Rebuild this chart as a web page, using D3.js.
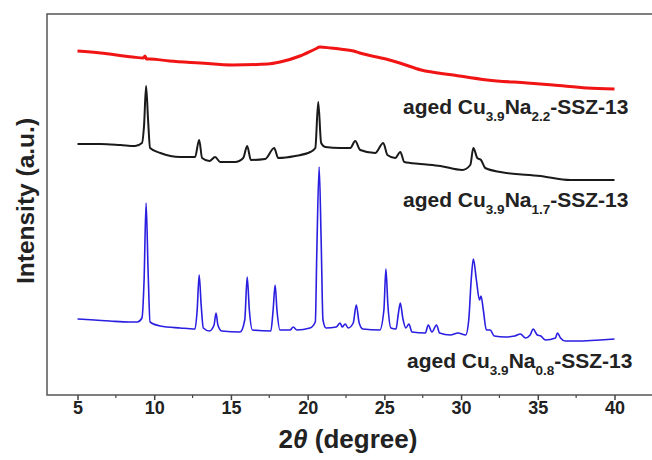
<!DOCTYPE html>
<html>
<head>
    <title>XRD aged Cu-SSZ-13</title>
    <script src="https://d3js.org/d3.v7.min.js"></script>
    <style>
        body {
            margin: 0;
            background-color: #fff;
            font-family: Arial, "Liberation Sans", sans-serif;
        }
        .tick-label {
            font-size: 18px;
            font-weight: bold;
            fill: #222;
        }
        .axis-title {
            font-weight: bold;
            fill: #222;
        }
        .series-label {
            font-size: 21px;
            font-weight: bold;
            fill: #222;
        }
    </style>
</head>
<body>
    <svg id="chart"></svg>
    <script>
        // 2theta tick labels
        const xTicks = [5, 10, 15, 20, 25, 30, 35, 40];
        const xMinorTicks = [7.5, 12.5, 17.5, 22.5, 27.5, 32.5, 37.5];

        // aged Cu3.9Na2.2-SSZ-13 (red, amorphous)
        const redTheta = [5.0, 6.5, 8.6, 9.3, 9.4, 9.5, 9.7, 11.0, 13.0, 15.1, 17.4, 18.2, 19.5, 20.5, 20.8, 21.5,
            22.1, 23.0, 23.4, 25.1, 26.0, 27.4, 29.5, 31.7, 34.3, 36.0, 38.2, 40.0];
        const redInt = [344, 342, 338, 337, 339, 336, 336, 334, 332, 330, 331, 333, 339, 346, 348, 347,
            346, 344, 342, 336, 332, 325, 320, 315, 312, 310, 307, 306];

        // aged Cu3.9Na1.7-SSZ-13 (black)
        const blackTheta = [5.0, 6.5, 7.8, 8.75, 9.2, 9.34, 9.47, 9.6, 9.73, 10.4, 11.7, 12.66, 12.93, 13.12, 13.6,
            13.97, 14.3, 15.27, 15.8, 16.06, 16.3, 17.23, 17.82, 18.08, 19.19, 20.17, 20.5, 20.69, 20.88, 21.15,
            22.12, 22.78, 23.1, 23.43, 24.4, 24.93, 25.2, 25.71, 26.04, 26.3, 27.34, 28.65, 30.08, 30.6, 30.8,
            31.06, 31.3, 31.58, 32.56, 35.17, 37.13, 40.0];
        const blackInt = [251, 251, 250, 249, 252, 270, 309, 275, 247, 242, 238, 238, 255, 237, 234,
            238, 233, 233, 237, 249, 235, 236, 247, 237, 239, 243, 247, 293, 252, 248,
            247, 247, 254, 245, 242, 252, 240, 237, 243, 233, 231, 229, 225, 230, 247,
            237, 235, 227, 223, 219, 215, 215];

        // aged Cu3.9Na0.8-SSZ-13 (blue)
        const blueTheta = [5.0, 6.1, 7.1, 8.4, 8.9, 9.2, 9.34, 9.47, 9.6, 9.73, 10.4, 11.7, 12.66, 12.8, 12.93, 13.06,
            13.2, 13.6, 13.9, 14.03, 14.15, 14.4, 15.6, 15.9, 16.06, 16.2, 16.4, 17.6, 17.75, 17.88, 18.0, 18.2,
            18.86, 19.06, 19.3, 20.15, 20.5, 20.6, 20.75, 20.88, 21.0, 21.2, 21.86, 22.12, 22.25, 22.45, 22.64,
            22.97, 23.17, 23.36, 23.6, 24.7, 24.97, 25.1, 25.23, 25.43, 25.76, 25.9, 26.04, 26.2, 26.4, 26.6,
            26.8, 27.67, 27.86, 28.1, 28.4, 28.6, 29.3, 29.8, 30.3, 30.5, 30.66, 30.8, 31.0, 31.2, 31.3, 31.45,
            31.65, 31.9, 32.16, 32.9, 33.5, 33.87, 34.2, 34.5, 34.7, 34.97, 35.2, 35.5, 36.15, 36.28, 36.48,
            36.8, 37.78, 39.08, 40.0];
        const blueInt = [76, 75, 74, 73, 73, 77, 115, 192, 125, 73, 69, 67, 66, 85, 120, 90,
            67, 64, 70, 82, 70, 64, 63, 75, 118, 85, 65, 64, 85, 110, 85, 65,
            65, 68, 65, 67, 73, 145, 228, 155, 75, 67, 68, 72, 68, 71, 67,
            72, 90, 72, 66, 65, 85, 126, 90, 67, 66, 80, 92, 77, 67, 71,
            63, 62, 70, 63, 70, 62, 60, 62, 60, 75, 115, 136, 115, 95, 99, 85,
            65, 65, 59, 58, 59, 61, 57, 60, 66, 60, 59, 55, 57, 62, 57,
            54, 54, 55, 56];

        const seriesNames = ['aged Cu|3.9|Na|2.2|-SSZ-13', 'aged Cu|3.9|Na|1.7|-SSZ-13', 'aged Cu|3.9|Na|0.8|-SSZ-13'];
        const seriesColors = ['#f01414', '#1a1a1a', '#2a1ee0'];

        const W = 652, H = 460;
        const plot = { left: 47, top: 14, right: 660, bottom: 395 };

        const svg = d3.select('#chart').attr('width', W).attr('height', H);

        const x = d3.scaleLinear().domain([5, 40]).range([77.5, 614.5]);
        const y = d3.scaleLinear().domain([0, 381]).range([plot.bottom, plot.top]);

        // frame
        svg.append('rect')
            .attr('x', plot.left).attr('y', plot.top)
            .attr('width', plot.right - plot.left).attr('height', plot.bottom - plot.top)
            .attr('fill', 'none').attr('stroke', '#555').attr('stroke-width', 1.5);

        // x axis
        const xAxis = svg.append('g')
            .attr('transform', `translate(0,${plot.bottom})`)
            .call(d3.axisBottom(x).tickValues(xTicks).tickSize(5).tickSizeOuter(0).tickFormat(d3.format('d')));
        xAxis.select('.domain').remove();
        xAxis.selectAll('line').attr('stroke', '#444').attr('stroke-width', 1.5);
        xAxis.selectAll('text').attr('class', 'tick-label').attr('dy', '0.5em').attr('y', 10)
            .style('font-size', '18px').style('font-family', 'Arial, "Liberation Sans", sans-serif');

        svg.append('g').selectAll('line')
            .data(xMinorTicks).enter().append('line')
            .attr('x1', d => x(d)).attr('x2', d => x(d))
            .attr('y1', plot.bottom).attr('y2', plot.bottom + 3)
            .attr('stroke', '#444').attr('stroke-width', 1.2);

        // axis titles
        const xt = svg.append('text').attr('class', 'axis-title')
            .attr('x', 348).attr('y', 448).attr('text-anchor', 'middle')
            .style('font-size', '26px');
        xt.append('tspan').text('2');
        xt.append('tspan').style('font-style', 'italic').text('θ');
        xt.append('tspan').text(' (degree)');

        svg.append('text').attr('class', 'axis-title')
            .attr('transform', 'translate(34,201) rotate(-90)')
            .attr('text-anchor', 'middle')
            .style('font-size', '24.5px')
            .text('Intensity (a.u.)');

        // curves
        const line = d3.line()
            .x(d => x(d[0]))
            .y(d => y(d[1]))
            .curve(d3.curveMonotoneX);

        const series = [
            { theta: redTheta, vals: redInt, width: 3 },
            { theta: blackTheta, vals: blackInt, width: 2 },
            { theta: blueTheta, vals: blueInt, width: 1.6 }
        ];

        series.forEach((s, i) => {
            const pts = s.theta.map((t, j) => [t, s.vals[j]]);
            svg.append('path')
                .datum(pts)
                .attr('d', line)
                .attr('fill', 'none')
                .attr('stroke', seriesColors[i])
                .attr('stroke-width', s.width)
                .attr('stroke-linejoin', 'round');
        });

        // series labels with subscripts
        const labelPos = [[403, 114], [403, 207], [407, 368]];
        seriesNames.forEach((name, i) => {
            const parts = name.split('|');
            const t = svg.append('text').attr('class', 'series-label')
                .attr('x', labelPos[i][0]).attr('y', labelPos[i][1]);
            parts.forEach((p, k) => {
                const sub = k % 2 === 1;
                const ts = t.append('tspan').text(p);
                if (sub) ts.style('font-size', '13.5px').attr('dy', 7);
                else if (k > 0) ts.attr('dy', -7);
            });
        });
    </script>
</body>
</html>
